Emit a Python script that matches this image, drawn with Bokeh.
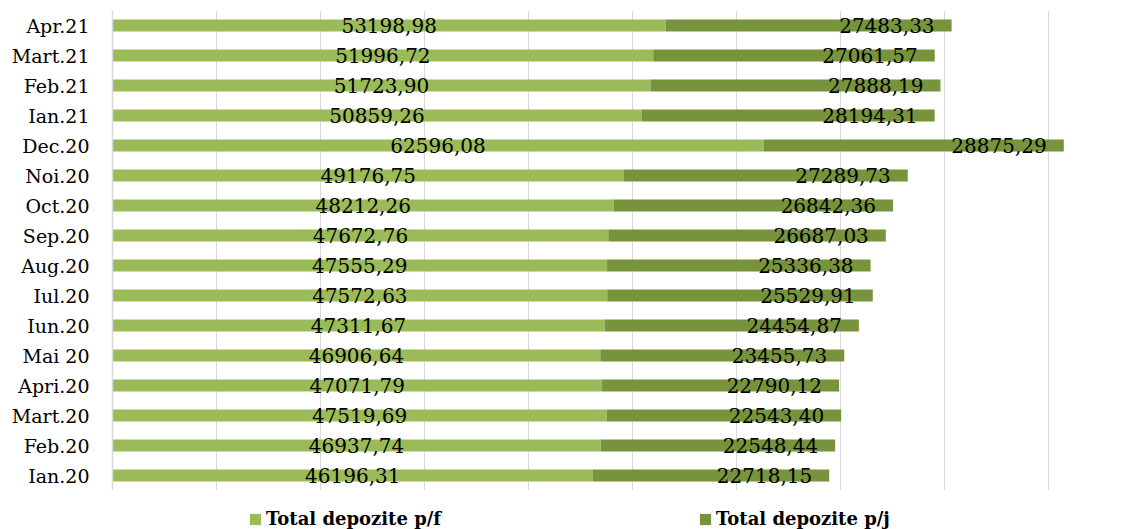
from bokeh.plotting import figure
from bokeh.models import ColumnDataSource, FactorRange, Range1d, FixedTicker, Legend, LegendItem
from bokeh.layouts import column
from bokeh.core.properties import value
from bokeh.embed import file_html
from bokeh.resources import INLINE

months = ["Ian.20", "Feb.20", "Mart.20", "Apri.20", "Mai 20", "Iun.20", "Iul.20", "Aug.20",
          "Sep.20", "Oct.20", "Noi.20", "Dec.20", "Ian.21", "Feb.21", "Mart.21", "Apr.21"]
dep_pf = [46196.31, 46937.74, 47519.69, 47071.79, 46906.64, 47311.67, 47572.63, 47555.29,
          47672.76, 48212.26, 49176.75, 62596.08, 50859.26, 51723.90, 51996.72, 53198.98]
dep_pj = [22718.15, 22548.44, 22543.40, 22790.12, 23455.73, 24454.87, 25529.91, 25336.38,
          26687.03, 26842.36, 27289.73, 28875.29, 28194.31, 27888.19, 27061.57, 27483.33]
series_names = ["Total depozite p/f", "Total depozite p/j"]
grid_ticks = [0, 10000, 20000, 30000, 40000, 50000, 60000, 70000, 80000, 90000]

C1 = "#9BBB59"
C2 = "#77933C"

def fmt(v):
    return ("%.2f" % v).replace(".", ",")

totals = [a + b for a, b in zip(dep_pf, dep_pj)]
src = ColumnDataSource(dict(
    m=months, pf=dep_pf, pj=dep_pj, tot=totals,
    mid1=[a / 2 for a in dep_pf],
    lab1=[fmt(v) for v in dep_pf], lab2=[fmt(v) for v in dep_pj],
))

# main chart
p = figure(width=1140, height=490, output_backend="svg", toolbar_location=None,
           y_range=FactorRange(*months, range_padding=0),
           x_range=Range1d(0, 98846))
p.min_border_left = 112
p.min_border_right = 0
p.min_border_top = 10
p.min_border_bottom = 0
p.outline_line_color = None
p.background_fill_color = "white"

r1 = p.hbar(y="m", left=0, right="pf", height=0.4, color=C1, line_color=None, source=src)
r2 = p.hbar(y="m", left="pf", right="tot", height=0.4, color=C2, line_color=None, source=src)

p.text(x="mid1", y="m", text="lab1", source=src, text_align="center", text_baseline="middle",
       text_font=value("DejaVu Serif"), text_font_size="20px", text_color="black")
p.text(x="tot", y="m", text="lab2", source=src, text_align="right", text_baseline="middle",
       x_offset=-17, text_font=value("DejaVu Serif"), text_font_size="20px", text_color="black")

p.xaxis.visible = False
p.xgrid.ticker = FixedTicker(ticks=grid_ticks)
p.xgrid.grid_line_color = "#D9D9D9"
p.xgrid.grid_line_width = 1
p.ygrid.grid_line_color = None

ax = p.yaxis[0]
ax.axis_line_color = "#D9D9D9"
ax.axis_line_width = 1.5
ax.major_tick_line_color = None
ax.minor_tick_line_color = None
ax.major_tick_out = 0
ax.major_tick_in = 0
ax.major_label_standoff = 23
ax.major_label_text_font = "DejaVu Serif"
ax.major_label_text_font_size = "19px"
ax.major_label_text_color = "black"

# legend strip (swatch renderers sit outside the strip's visible range)
pl = figure(width=1140, height=39, output_backend="svg", toolbar_location=None,
            x_axis_location=None, y_axis_location=None,
            x_range=Range1d(0, 1), y_range=Range1d(0, 1))
pl.min_border_left = 112
pl.min_border_right = 0
pl.min_border_top = 0
pl.min_border_bottom = 0
pl.outline_line_color = None
pl.xgrid.visible = False
pl.ygrid.visible = False
lg1 = pl.hbar(y=[-10], left=[0], right=[1], height=0.4, color=C1, line_color=None)
lg2 = pl.hbar(y=[-10], left=[0], right=[1], height=0.4, color=C2, line_color=None)

legend = Legend(items=[LegendItem(label=series_names[0], renderers=[lg1]),
                       LegendItem(label=series_names[1], renderers=[lg2])],
                orientation="horizontal", location="bottom_center")
legend.padding = 0
legend.margin = 0
legend.border_line_color = None
legend.background_fill_alpha = 0
legend.glyph_width = 14
legend.glyph_height = 14
legend.label_standoff = 4
legend.label_width = 288
legend.label_height = 20
legend.spacing = 144
legend.label_text_font = "DejaVu Serif"
legend.label_text_font_style = "bold"
legend.label_text_font_size = "18px"
legend.label_text_color = "black"
pl.add_layout(legend, "center")

layout = column(p, pl, spacing=0)
open("out.html", "w").write(file_html(layout, INLINE))
